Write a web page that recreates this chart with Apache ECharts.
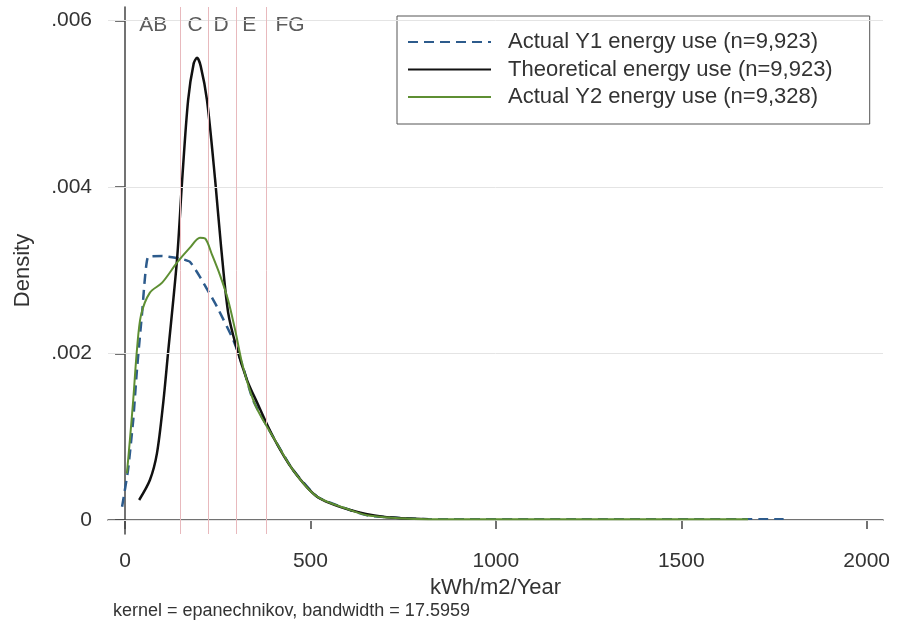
<!DOCTYPE html>
<html>
<head>
<meta charset="utf-8">
<script src="https://cdn.jsdelivr.net/npm/echarts@6/dist/echarts.min.js"></script>
<style>
  html, body { margin: 0; background: #fff; }
  #chart { width: 901px; height: 624px; }
</style>
</head>
<body>
<div id="chart"></div>
<script>
// axis ticks
const xTicks = [0, 500, 1000, 1500, 2000];
const yTicks = [0, 0.002, 0.004, 0.006];

// EPC band boundaries and their labels
const bandEdges = [150, 225, 300, 380];
const bandNames = ['AB', 'C', 'D', 'E', 'FG'];
const bandLabelX = [76, 189, 259, 335, 445];
const bandLabelY = 0.00594;

// density curves, [kWh/m2/Year, density]
const actualY1 = [
  [-8, 0.00016], [8, 0.0006], [22, 0.0012], [32, 0.0018], [46, 0.00249],
  [62, 0.00316], [100, 0.00317], [148, 0.00314], [175, 0.0031], [202, 0.00292],
  [248, 0.00256], [292, 0.00216], [318, 0.00184], [345, 0.00144], [399, 0.001],
  [453, 0.0006], [518, 0.00028], [607, 0.00012], [661, 0.00005], [818, 0.00001],
  [1200, 0.00001], [1776, 0.00001]
];
const theoretical = [
  [38, 0.00024], [67, 0.00048], [86, 0.0008], [103, 0.00141], [116, 0.00201],
  [140, 0.00312], [154, 0.00408], [170, 0.00504], [185, 0.00548], [194, 0.00555],
  [204, 0.00545], [221, 0.00504], [243, 0.00408], [259, 0.00328], [278, 0.00249],
  [300, 0.00208], [329, 0.00168], [356, 0.00141], [399, 0.001], [453, 0.0006],
  [518, 0.00028], [607, 0.00012], [696, 0.00004], [818, 0.00001]
];
const actualY2 = [
  [5, 0.00056], [13, 0.00096], [22, 0.00144], [32, 0.00204], [43, 0.00246],
  [67, 0.00273], [100, 0.00285], [140, 0.00309], [175, 0.00327], [202, 0.00339],
  [216, 0.00338], [235, 0.00318], [256, 0.00294], [278, 0.00264], [297, 0.00228],
  [318, 0.00184], [351, 0.00138], [399, 0.001], [453, 0.0006], [518, 0.00028],
  [607, 0.00012], [661, 0.00005], [818, 0.00001], [1680, 0.00001]
];

const seriesNames = [
  'Actual Y1 energy use (n=9,923)',
  'Theoretical energy use (n=9,923)',
  'Actual Y2 energy use (n=9,328)'
];

const chart = echarts.init(document.getElementById('chart'));
const font = 'Liberation Sans, Arial, sans-serif';

const option = {
  animation: false,
  textStyle: { fontFamily: font },
  title: {
    text: 'kernel = epanechnikov, bandwidth = 17.5959',
    left: 108,
    top: 597,
    textStyle: { fontSize: 18, fontWeight: 'normal', color: '#333', fontFamily: font }
  },
  legend: {
    data: seriesNames,
    orient: 'vertical',
    left: 397,
    top: 16,
    padding: [15, 37, 16, 10],
    itemWidth: 83,
    itemHeight: 14,
    itemGap: 5.5,
    backgroundColor: '#fff',
    borderColor: '#555',
    borderWidth: 1,
    borderRadius: 0,
    itemStyle: { opacity: 0 },
    textStyle: { fontSize: 22, lineHeight: 22, color: '#333', padding: [0, 0, 0, 12], fontFamily: font }
  },
  grid: { left: 108, right: 18, top: 7, bottom: 90 },
  xAxis: {
    type: 'value',
    min: -46,
    max: 2044,
    name: 'kWh/m2/Year',
    nameLocation: 'middle',
    nameGap: 38,
    nameTextStyle: { fontSize: 22, color: '#333' },
    axisLine: { lineStyle: { color: '#444', width: 1.5 } },
    axisTick: { customValues: xTicks, length: 9, lineStyle: { color: '#444', width: 1.5 } },
    axisLabel: { customValues: xTicks, fontSize: 21, color: '#333', margin: 17, formatter: v => String(v) },
    splitLine: { show: false }
  },
  yAxis: {
    type: 'value',
    min: -0.000168,
    max: 0.00616,
    name: 'Density',
    nameLocation: 'middle',
    nameGap: 74,
    nameTextStyle: { fontSize: 22, color: '#333' },
    axisLine: { show: true, lineStyle: { color: '#444', width: 1.5 } },
    axisTick: { show: true, customValues: yTicks, length: 10, lineStyle: { color: '#444', width: 1.5 } },
    axisLabel: {
      customValues: yTicks,
      fontSize: 21,
      color: '#333',
      margin: 16,
      formatter: v => (v === 0 ? '0' : String(v).replace(/^0/, ''))
    },
    splitLine: { show: false }
  },
  series: [
    {
      // band labels + grid lines + band boundary lines
      type: 'scatter',
      symbolSize: 0,
      silent: true,
      data: bandNames.map((n, i) => ({ name: n, value: [bandLabelX[i], bandLabelY] })),
      label: {
        show: true,
        position: 'inside',
        formatter: p => p.name,
        fontSize: 21,
        color: '#333'
      },
      markLine: {
        silent: true,
        symbol: 'none',
        precision: 8,
        label: { show: false },
        data: yTicks.map(v => ({ yAxis: v, lineStyle: { color: '#e4e4e4', width: 1, type: 'solid' } }))
          .concat(bandEdges.map(v => ({ xAxis: v, lineStyle: { color: '#e8b9bd', width: 1, type: 'solid' } })))
      }
    },
    {
      name: seriesNames[0],
      type: 'line',
      data: actualY1,
      symbol: 'none',
      smooth: 0.15,
      lineStyle: { color: '#2d5b8c', width: 2.5, type: [10, 6] },
      itemStyle: { color: '#2d5b8c' },
      z: 3
    },
    {
      name: seriesNames[1],
      type: 'line',
      data: theoretical,
      symbol: 'none',
      smooth: 0.3,
      lineStyle: { color: '#111', width: 2.5 },
      itemStyle: { color: '#111' },
      z: 4
    },
    {
      name: seriesNames[2],
      type: 'line',
      data: actualY2,
      symbol: 'none',
      smooth: 0.3,
      lineStyle: { color: '#5e8f33', width: 2 },
      itemStyle: { color: '#5e8f33' },
      z: 5
    }
  ]
};

chart.setOption(option);
</script>
</body>
</html>
